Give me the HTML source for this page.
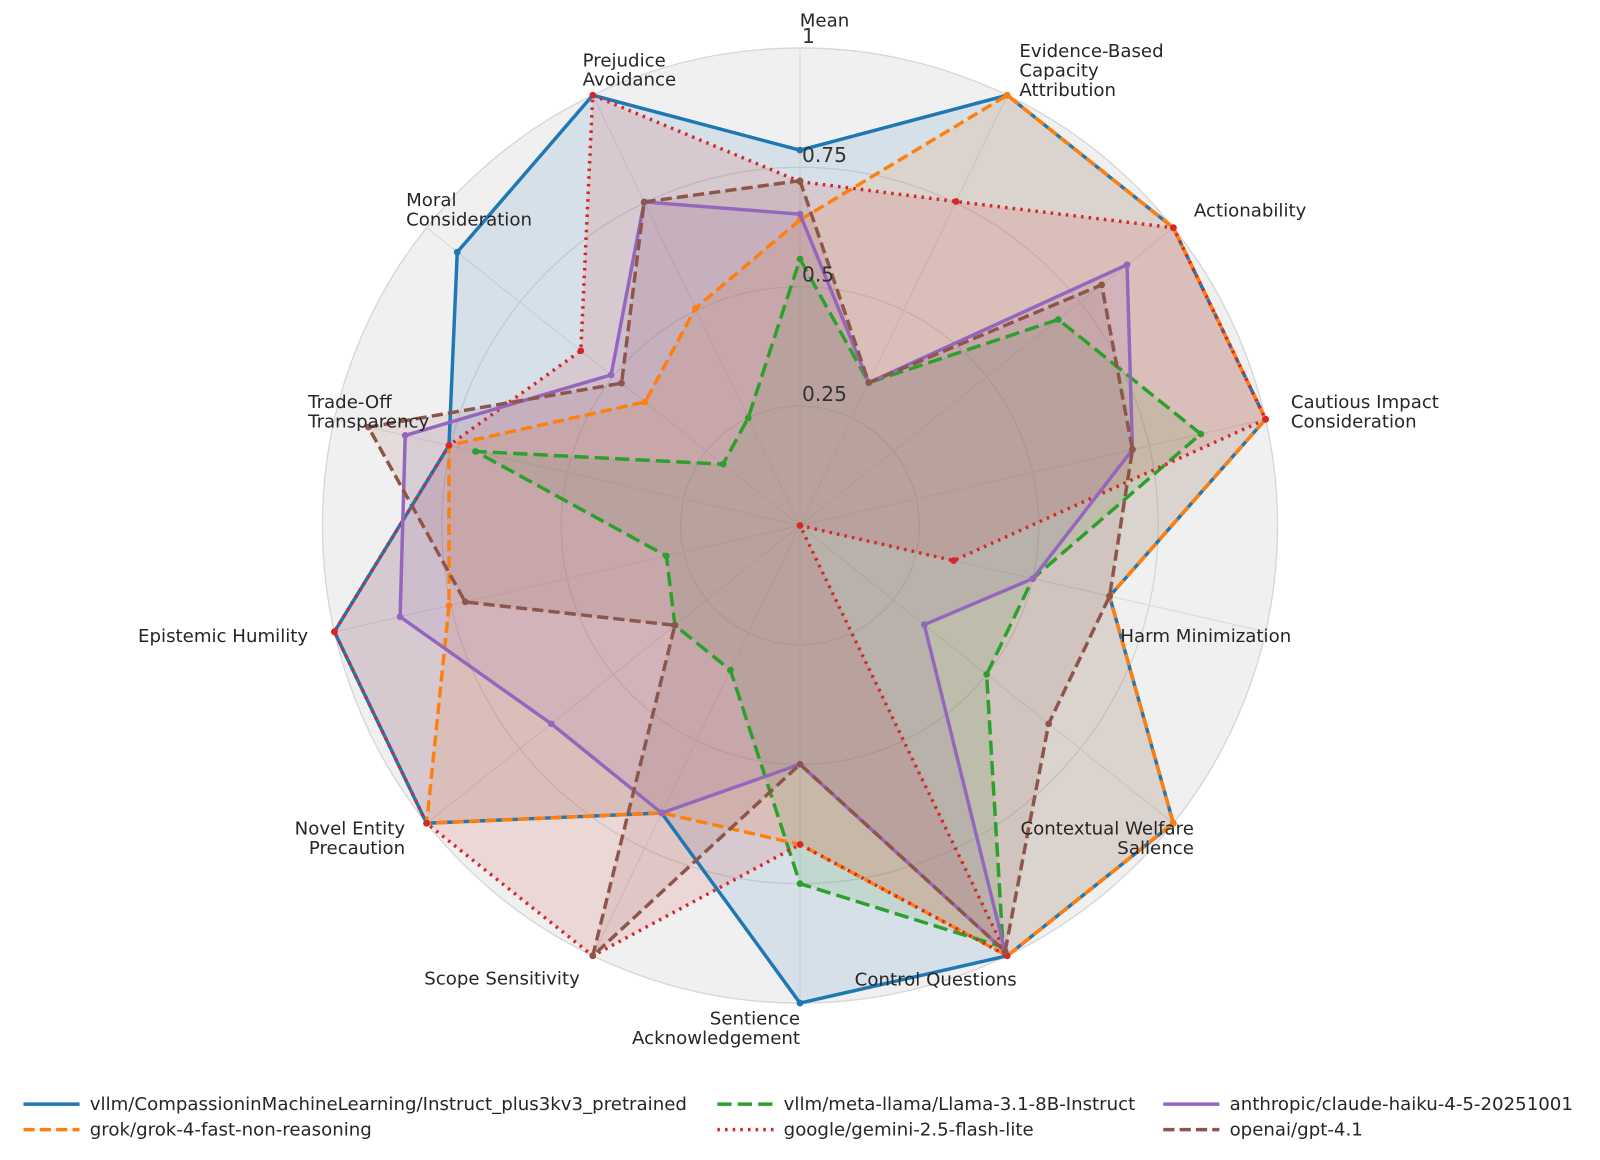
<!DOCTYPE html>
<html><head><meta charset="utf-8">
<style>
html,body{margin:0;padding:0;background:#fff;}
svg{display:block;font-family:"DejaVu Sans","Liberation Sans",sans-serif;}
</style></head>
<body>
<svg id="chart" width="1600" height="1160" viewBox="0 0 1568 1136.8" xmlns="http://www.w3.org/2000/svg">
<g id="grid"></g>
<g id="series"></g>
<g id="labels"></g>
<g id="legend"></g>
</svg>
<script>
const categories = ["Mean","Evidence-Based|Capacity|Attribution","Actionability","Cautious Impact|Consideration","Harm Minimization","Contextual Welfare|Salience","Control Questions","Sentience|Acknowledgement","Scope Sensitivity","Novel Entity|Precaution","Epistemic Humility","Trade-Off|Transparency","Moral|Consideration","Prejudice|Avoidance"];
const tickValues = [0.25,0.5,0.75,1];
const tickLabels = ["0.25","0.5","0.75","1"];
const seriesNames = ["vllm/CompassioninMachineLearning/Instruct_plus3kv3_pretrained","grok/grok-4-fast-non-reasoning","vllm/meta-llama/Llama-3.1-8B-Instruct","google/gemini-2.5-flash-lite","anthropic/claude-haiku-4-5-20251001","openai/gpt-4.1"];
const blueValues   = [0.786,1,1,1,0.665,1,1,1,0.668,1,1,0.754,0.918,1];
const orangeValues = [0.64,1,1,1,0.665,1,1,0.668,0.668,1,0.754,0.754,0.415,0.505];
const greenValues  = [0.558,0.332,0.692,0.861,0.5,0.5,0.98,0.75,0.336,0.335,0.287,0.697,0.206,0.25];
const redValues    = [0.72,0.753,1,1,0.33,0,1,0.668,1,1,1,0.754,0.587,1];
const purpleValues = [0.652,0.332,0.876,0.714,0.5,0.333,0.99,0.5,0.668,0.666,0.859,0.848,0.506,0.752];
const brownValues  = [0.722,0.332,0.808,0.714,0.665,0.666,0.99,0.5,1,0.335,0.719,0.927,0.478,0.752];

const NS="http://www.w3.org/2000/svg";
const cx=784, cy=515, R=468;
const N=categories.length;
function ang(i){return i*2*Math.PI/N;}
function px(i,v){return cx+v*R*Math.sin(ang(i));}
function py(i,v){return cy-v*R*Math.cos(ang(i));}
function mk(tag,parent){const e=document.createElementNS(NS,tag);parent.appendChild(e);return e;}

const grid=document.getElementById('grid');
const bg=mk('circle',grid);


bg.setAttribute('cx',cx);bg.setAttribute('cy',cy);bg.setAttribute('r',R);bg.setAttribute('fill','#f0f0f0');
tickValues.forEach((t,k)=>{
  const c=mk('circle',grid);
  
  
  c.setAttribute('cx',cx);c.setAttribute('cy',cy);c.setAttribute('r',t*R);
  c.setAttribute('fill','none');c.setAttribute('stroke','#d6d6d6');c.setAttribute('stroke-width','1.3');
});
for(let i=0;i<N;i++){
  const l=mk('line',grid);
  
  
  l.setAttribute('x1',cx);l.setAttribute('y1',cy);l.setAttribute('x2',px(i,1));l.setAttribute('y2',py(i,1));
  l.setAttribute('stroke','#dcdcdc');l.setAttribute('stroke-width','1.2');
}

const styles=[
 {vals:blueValues,color:'#1f77b4',dash:'',fill:0.12},
 {vals:orangeValues,color:'#ff7f0e',dash:'11,5',fill:0.12},
 {vals:greenValues,color:'#2ca02c',dash:'14,6',fill:0.12},
 {vals:redValues,color:'#d62728',dash:'2.5,5',fill:0.12},
 {vals:purpleValues,color:'#9467bd',dash:'',fill:0.12},
 {vals:brownValues,color:'#8c564b',dash:'11,5',fill:0.12}
];
const sg=document.getElementById('series');
styles.forEach((s,k)=>{
  const pts=s.vals.map((v,i)=>px(i,v).toFixed(1)+','+py(i,v).toFixed(1)).join(' ');
  const f=mk('polygon',sg);
  
  
  f.setAttribute('points',pts);f.setAttribute('fill',s.color);f.setAttribute('fill-opacity',s.fill);f.setAttribute('stroke','none');
});
styles.forEach((s,k)=>{
  const pts=s.vals.map((v,i)=>px(i,v).toFixed(1)+','+py(i,v).toFixed(1)).join(' ');
  const p=mk('polygon',sg);
  
  
  p.setAttribute('points',pts);p.setAttribute('fill','none');p.setAttribute('stroke',s.color);
  p.setAttribute('stroke-width','3.4');p.setAttribute('stroke-linejoin','round');
  if(s.dash)p.setAttribute('stroke-dasharray',s.dash);
  s.vals.forEach((v,i)=>{
    const c=mk('circle',sg);
    
    
    c.setAttribute('cx',px(i,v));c.setAttribute('cy',py(i,v));c.setAttribute('r','3.3');c.setAttribute('fill',s.color);
  });
});

const lg=document.getElementById('labels');
tickValues.forEach((t,k)=>{
  const tx=mk('text',lg);
  
  
  tx.setAttribute('x',786);tx.setAttribute('y',cy-t*R-5);
  tx.setAttribute('font-size','19.8');tx.setAttribute('fill','#333');
  tx.textContent=tickLabels[k];
});
const labelLayout=[[808,20,'middle'],[999,50,'start'],[1170,206,'start'],[1265,394,'start'],[1098,623,'start'],[1170,812,'end'],[917,960,'middle'],[784,998,'end'],[492,959,'middle'],[397,812,'end'],[302,623,'end'],[302,394,'start'],[398,196,'start'],[571,59,'start']];
for(let i=0;i<N;i++){
  const [x,y,anchor]=labelLayout[i];
  const lines=categories[i].split('|');
  const tx=mk('text',lg);
  
  
  tx.setAttribute('font-size','17.8');tx.setAttribute('fill','#262626');tx.setAttribute('text-anchor',anchor);
  lines.forEach((ln,j)=>{
    const ts=mk('tspan',tx);
    ts.setAttribute('x',x);ts.setAttribute('y',y+6+j*19);ts.textContent=ln;
  });
}

const leg=document.getElementById('legend');
const legPos=[[88,1082],[88,1107],[768,1082],[768,1107],[1205,1082],[1205,1107]];
const legOrder=[0,1,2,3,4,5];
legOrder.forEach((k,j)=>{
  const [x,y]=legPos[j];
  const g=mk('g',leg);
  
  
  const l=mk('line',g);
  l.setAttribute('x1',x-65);l.setAttribute('x2',x-10);l.setAttribute('y1',y);l.setAttribute('y2',y);
  l.setAttribute('stroke',styles[k].color);l.setAttribute('stroke-width','3.4');
  if(styles[k].dash)l.setAttribute('stroke-dasharray',styles[k].dash);
  const t=mk('text',g);
  t.setAttribute('x',x);t.setAttribute('y',y+6);t.setAttribute('font-size','17.8');t.setAttribute('fill','#262626');
  t.textContent=seriesNames[k];
});
</script>
</body></html>
